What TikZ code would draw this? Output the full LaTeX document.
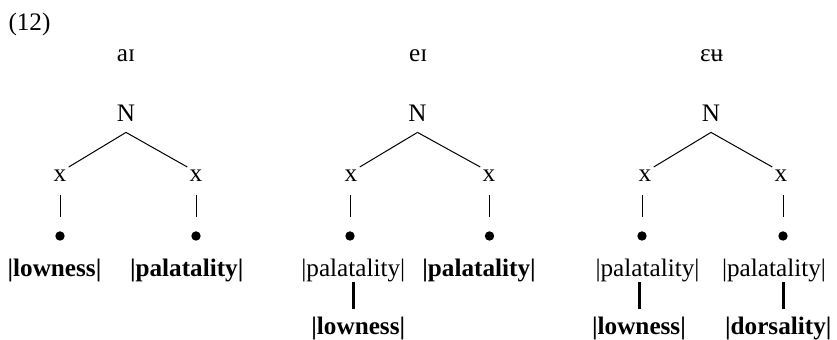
\documentclass[tikz,border=0pt]{standalone}
\usepackage{fontspec}
\setmainfont{Liberation Serif}
\usetikzlibrary{calc}

\begin{document}
\begin{tikzpicture}[x=0.5pt,y=-0.5pt,
  txt/.style={anchor=base,inner sep=0pt,font=\fontsize{12.6}{15}\selectfont},
  root/.style={txt,inner xsep=1pt,inner ysep=5pt},
  slot/.style={txt,inner xsep=1pt,inner ysep=1.5pt},
  dot/.style={circle,fill,inner sep=0pt,minimum size=4.7pt},
  branch/.style={line width=0.5pt},
  stem/.style={line width=0.4pt,shorten <=4.8pt,shorten >=7pt},
  bar/.style={line width=1.5pt,shorten >=3.6pt}]
\useasboundingbox (0,0) rectangle (837,340);
\node[txt] (ex) at (29.5,31) {(12)};
% a-I
\node[txt] (ga) at (126,62) {aɪ};
\node[root] (Na) at (126,122) {N};
\node[slot] (xa1) at (60,182) {x};
\node[slot] (xa2) at (196,182) {x};
\node[dot] (da1) at (60,236) {};
\node[dot] (da2) at (196,236) {};
\node[txt] (fa1) at (54.5,276.5) {\textbf{|lowness|}};
\node[txt] (fa2) at (186.7,276.5) {\textbf{|palatality|}};
\draw[branch] (Na.south) -- (xa1.north east);
\draw[branch] (Na.south) -- (xa2.north west);
\draw[stem] (da1.north |- xa1.south) -- (da1.north);
\draw[stem] (da2.north |- xa2.south) -- (da2.north);
% e-I
\node[txt] (gb) at (418.3,62) {eɪ};
\node[root] (Nb) at (417.5,122) {N};
\node[slot] (xb1) at (351,182) {x};
\node[slot] (xb2) at (489,182) {x};
\node[dot] (db1) at (350,236) {};
\node[dot] (db2) at (489.5,236) {};
\node[txt] (fb1) at (353.3,276.5) {|palatality|};
\node[txt] (fb2) at (479,276.5) {\textbf{|palatality|}};
\node[txt] (fb3) at (358.3,334.5) {\textbf{|lowness|}};
\draw[branch] (Nb.south) -- (xb1.north east);
\draw[branch] (Nb.south) -- (xb2.north west);
\draw[stem] (db1.north |- xb1.south) -- (db1.north);
\draw[stem] (db2.north |- xb2.south) -- (db2.north);
\draw[bar] (fb1.south) -- (fb1.south |- fb3.north);
% E-u
\node[txt] (gc) at (711.7,62) {ɛʉ};
\node[root] (Nc) at (711,122) {N};
\node[slot] (xc1) at (645,182) {x};
\node[slot] (xc2) at (781,182) {x};
\node[dot] (dc1) at (642,236) {};
\node[dot] (dc2) at (783,236) {};
\node[txt] (fc1) at (647.5,276.5) {|palatality|};
\node[txt] (fc2) at (774,276.5) {|palatality|};
\node[txt] (fc3) at (639,334.5) {\textbf{|lowness|}};
\node[txt] (fc4) at (778.3,334.5) {\textbf{|dorsality|}};
\draw[branch] (Nc.south) -- (xc1.north east);
\draw[branch] (Nc.south) -- (xc2.north west);
\draw[stem] (dc1.north |- xc1.south) -- (dc1.north);
\draw[stem] (dc2.north |- xc2.south) -- (dc2.north);
\draw[bar] (fc1.south -| fc3) -- (fc3.north);
\draw[bar] (fc2.south -| dc2) -- (fc4.north -| dc2);
\end{tikzpicture}
\end{document}
